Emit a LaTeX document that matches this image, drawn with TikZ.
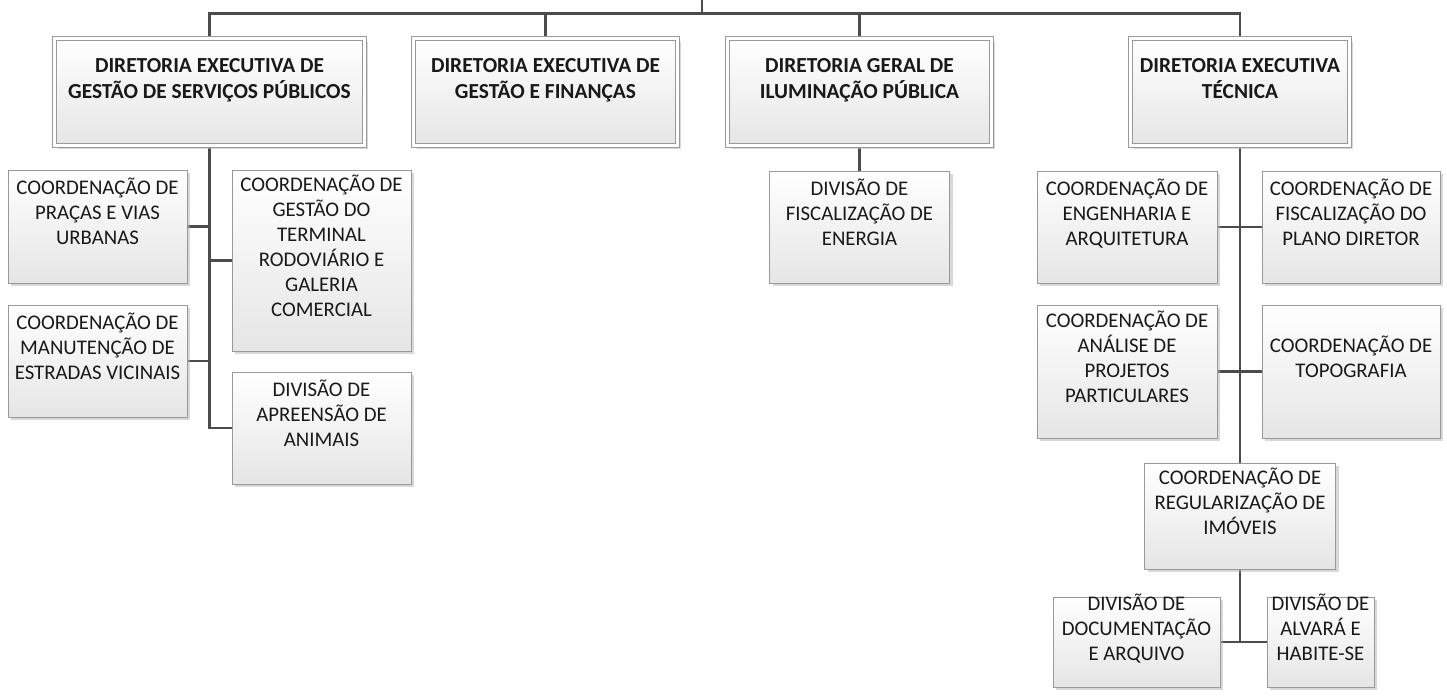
\documentclass[tikz,border=0pt]{standalone}
\usepackage{fontspec}
\setmainfont{Carlito}
\usepackage{tikz}
\usetikzlibrary{shadows,backgrounds}
\newcommand{\orgtext}[1]{\raisebox{12pt}[\height][\depth]{\begin{tabular}{@{}c@{}}#1\end{tabular}}}

\begin{document}
\begin{tikzpicture}[x=1pt, y=-1pt, every node/.style={font=\fontsize{20.8}{25}\selectfont, text=black!90, inner sep=2pt}, unit/.style={draw=black!40, line width=0.8pt, top color=white, bottom color=black!10, drop shadow={shadow xshift=3pt, shadow yshift=-3pt, fill=black!30, opacity=0.5}}, board/.style={unit, double=white, double distance=3.5pt, font=\fontsize{21.4}{26}\selectfont\bfseries}, link/.style={draw=black!70, line width=2.4pt}]
\useasboundingbox (0,0) rectangle (1447,697);
% directorias
\node[board, minimum width=310pt, minimum height=107pt] (dgsp) at (209.5,92) {\orgtext{DIRETORIA EXECUTIVA DE\\ GESTÃO DE SERVIÇOS PÚBLICOS}};
\node[board, minimum width=264pt, minimum height=107pt] (dgf) at (545.5,92) {\orgtext{DIRETORIA EXECUTIVA DE\\ GESTÃO E FINANÇAS}};
\node[board, minimum width=264pt, minimum height=107pt] (dgip) at (859.5,92) {\orgtext{DIRETORIA GERAL DE\\ ILUMINAÇÃO PÚBLICA}};
\node[board, minimum width=219pt, minimum height=107pt] (dtec) at (1240,92) {\orgtext{DIRETORIA EXECUTIVA\\ TÉCNICA}};
% servicos publicos
\node[unit, minimum width=179pt, minimum height=113pt] (pracas) at (97.5,226.5) {\orgtext{COORDENAÇÃO DE\\ PRAÇAS E VIAS\\ URBANAS}};
\node[unit, minimum width=179pt, minimum height=112pt] (manut) at (97.5,361) {\orgtext{COORDENAÇÃO DE\\ MANUTENÇÃO DE\\ ESTRADAS VICINAIS}};
\node[unit, minimum width=179pt, minimum height=181pt] (terminal) at (321.5,260.5) {\orgtext{COORDENAÇÃO DE\\ GESTÃO DO\\ TERMINAL\\ RODOVIÁRIO E\\ GALERIA\\ COMERCIAL}};
\node[unit, minimum width=179pt, minimum height=112pt] (animais) at (321.5,428) {\orgtext{DIVISÃO DE\\ APREENSÃO DE\\ ANIMAIS}};
% iluminacao
\node[unit, minimum width=180pt, minimum height=112pt] (energia) at (859.5,227) {\orgtext{DIVISÃO DE\\ FISCALIZAÇÃO DE\\ ENERGIA}};
% tecnica
\node[unit, minimum width=180pt, minimum height=112pt] (engenharia) at (1127,227) {\orgtext{COORDENAÇÃO DE\\ ENGENHARIA E\\ ARQUITETURA}};
\node[unit, minimum width=178pt, minimum height=112pt] (plano) at (1351,227) {\orgtext{COORDENAÇÃO DE\\ FISCALIZAÇÃO DO\\ PLANO DIRETOR}};
\node[unit, minimum width=180pt, minimum height=133pt] (projetos) at (1127,371.5) {\orgtext{COORDENAÇÃO DE\\ ANÁLISE DE\\ PROJETOS\\ PARTICULARES}};
\node[unit, minimum width=178pt, minimum height=133pt] (topo) at (1351,371.5) {\orgtext{COORDENAÇÃO DE\\ TOPOGRAFIA}};
\node[unit, minimum width=191pt, minimum height=106pt] (imoveis) at (1240,516) {\orgtext{COORDENAÇÃO DE\\ REGULARIZAÇÃO DE\\ IMÓVEIS}};
\node[unit, minimum width=167pt, minimum height=90pt] (docs) at (1136.5,642) {\orgtext{DIVISÃO DE\\ DOCUMENTAÇÃO\\ E ARQUIVO}};
\node[unit, minimum width=107pt, minimum height=90pt] (alvara) at (1320.5,642) {\orgtext{DIVISÃO DE\\ ALVARÁ E\\ HABITE-SE}};
\coordinate (top) at (702,0);
\coordinate (bus) at (702,13.5);
\begin{pgfonlayer}{background}
\draw[link] (top) -- (bus);
\foreach \d in {dgsp,dgf,dgip,dtec}
  \draw[link] (bus) -| (\d.north);
\foreach \c in {pracas,manut}
  \draw[link] (dgsp.south) |- (\c.east);
\foreach \c in {terminal,animais}
  \draw[link] (dgsp.south) |- (\c.west);
\draw[link] (dgip.south) -- (energia.north);
\foreach \c in {engenharia,projetos}
  \draw[link] (dtec.south) |- (\c.east);
\foreach \c in {plano,topo}
  \draw[link] (dtec.south) |- (\c.west);
\draw[link] (dtec.south) -- (imoveis.north);
\draw[link] (imoveis.south) |- (docs.east);
\draw[link] (imoveis.south) |- (alvara.west);
\end{pgfonlayer}
\end{tikzpicture}
\end{document}
